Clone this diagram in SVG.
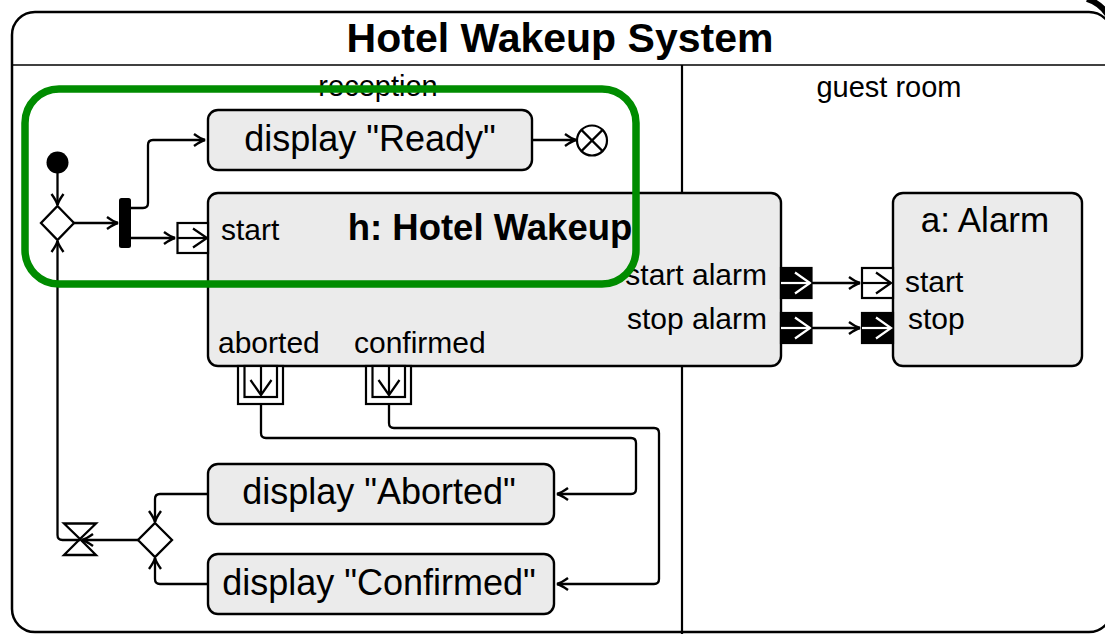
<svg xmlns="http://www.w3.org/2000/svg" width="1105" height="634" viewBox="0 0 1105 634">
  <style>
    text { font-family: "Liberation Sans", Arial, sans-serif; fill: #000; }
    .title { font-size: 41px; font-weight: bold; text-anchor: middle; }
    .lane { font-size: 29px; text-anchor: middle; }
    .act { fill: #ebebeb; stroke: #000; stroke-width: 2.4; }
    .actlbl { font-size: 36px; text-anchor: middle; }
    .pinlbl { font-size: 30px; }
    .edge { fill: none; stroke: #000; stroke-width: 2.3; marker-end: url(#arr); }
    .pin { fill: #fff; stroke: #000; stroke-width: 2.2; }
    .pinb { fill: #000; stroke: #000; stroke-width: 2.2; }
    .glyph { fill: none; stroke: #000; stroke-width: 2.2; }
    .glyphw { fill: none; stroke: #fff; stroke-width: 2.2; }
  </style>
  <defs>
    <marker id="arr" viewBox="-13 -8 15 16" refX="0" refY="0" markerWidth="15" markerHeight="16" markerUnits="userSpaceOnUse" orient="auto">
      <path d="M-11,-6 Q-4,-1 0,0 Q-4,1 -11,6" fill="none" stroke="#000" stroke-width="2.4"/>
    </marker>
  </defs>

  <rect width="1105" height="634" fill="#fff"/>

  <!-- frame with title compartment and swimlanes -->
  <g id="frame">
    <rect x="12" y="12" width="1100" height="620" rx="23" fill="none" stroke="#000" stroke-width="2.5"/>
    <line x1="12" y1="65" x2="1112" y2="65" stroke="#000" stroke-width="1.6"/>
    <line x1="682" y1="65" x2="682" y2="634" stroke="#000" stroke-width="2.2"/>
    <text class="title" x="560" y="52">Hotel Wakeup System</text>
    <text class="lane" x="378" y="96">reception</text>
    <text class="lane" x="889" y="97">guest room</text>
    <path d="M1087,-1 Q1100,3 1108,15" fill="none" stroke="#000" stroke-width="6"/>
  </g>

  <!-- control nodes -->
  <g id="initial">
    <circle cx="57.5" cy="162.5" r="11" fill="#000"/>
  </g>
  <g id="decision">
    <polygon points="57.5,206 74,223 57.5,240 41,223" fill="#fff" stroke="#000" stroke-width="2.3"/>
  </g>
  <g id="fork">
    <rect x="119" y="198" width="12" height="50" rx="2.5" fill="#000"/>
  </g>
  <g id="flow-final">
    <circle cx="592" cy="140.5" r="15" fill="#fff" stroke="#000" stroke-width="2.2"/>
    <line x1="581.4" y1="129.9" x2="602.6" y2="151.1" stroke="#000" stroke-width="2.2"/>
    <line x1="602.6" y1="129.9" x2="581.4" y2="151.1" stroke="#000" stroke-width="2.2"/>
  </g>
  <g id="merge">
    <polygon points="155,523 172,540 155,557 138,540" fill="#fff" stroke="#000" stroke-width="2.3"/>
  </g>
  <g id="timer">
    <polygon points="64,523.5 96,523.5 80,539 96,555 64,555 80,539" fill="#fff" stroke="#000" stroke-width="2.3" stroke-linejoin="miter"/>
  </g>

  <!-- actions -->
  <g id="display-ready">
    <rect class="act" x="208" y="110" width="324" height="60" rx="10"/>
    <text class="actlbl" x="370" y="151">display "Ready"</text>
  </g>

  <g id="hotel-wakeup">
    <rect class="act" x="208" y="193" width="573" height="173" rx="10"/>
    <text x="490" y="240" font-size="36.5" font-weight="bold" text-anchor="middle">h: Hotel Wakeup</text>
    <text class="pinlbl" x="221" y="240">start</text>
    <text class="pinlbl" x="767" y="285" text-anchor="end">start alarm</text>
    <text class="pinlbl" x="767" y="329" text-anchor="end">stop alarm</text>
    <text class="pinlbl" x="218" y="353">aborted</text>
    <text class="pinlbl" x="354" y="353">confirmed</text>
    <!-- input pin: start -->
    <rect class="pin" x="177.5" y="223" width="30.5" height="30"/>
    <line class="glyph" x1="177.5" y1="238" x2="207" y2="238"/>
    <polyline class="glyph" points="193,228.5 207,238 193,247.5"/>
    <!-- output pins: start alarm / stop alarm -->
    <rect class="pinb" x="781" y="268" width="30.5" height="30"/>
    <line class="glyphw" x1="781" y1="283" x2="810" y2="283"/>
    <polyline class="glyphw" points="795,272.5 810,283 795,293.5"/>
    <rect class="pinb" x="781" y="313" width="30.5" height="30"/>
    <line class="glyphw" x1="781" y1="328" x2="810" y2="328"/>
    <polyline class="glyphw" points="795,317.5 810,328 795,338.5"/>
    <!-- output pin sets: aborted / confirmed -->
    <rect class="pin" x="238" y="366" width="45" height="38"/>
    <rect class="pin" x="244.5" y="366" width="32.5" height="31"/>
    <line class="glyph" x1="261" y1="366" x2="261" y2="395"/>
    <polyline class="glyph" points="250.5,380 261,395 271.5,380"/>
    <rect class="pin" x="366" y="366" width="45" height="38"/>
    <rect class="pin" x="372.5" y="366" width="32.5" height="31"/>
    <line class="glyph" x1="389" y1="366" x2="389" y2="395"/>
    <polyline class="glyph" points="378.5,380 389,395 399.5,380"/>
  </g>

  <g id="alarm">
    <rect class="act" x="893" y="193" width="189" height="173" rx="10"/>
    <text x="985" y="232" font-size="35" text-anchor="middle">a: Alarm</text>
    <text class="pinlbl" x="905" y="292">start</text>
    <text class="pinlbl" x="908" y="329">stop</text>
    <rect class="pin" x="862" y="268" width="31" height="30"/>
    <line class="glyph" x1="862" y1="283" x2="891" y2="283"/>
    <polyline class="glyph" points="876,272.5 891,283 876,293.5"/>
    <rect class="pinb" x="862" y="313" width="31" height="30"/>
    <line class="glyphw" x1="862" y1="328" x2="891" y2="328"/>
    <polyline class="glyphw" points="876,317.5 891,328 876,338.5"/>
  </g>

  <g id="display-aborted">
    <rect class="act" x="208" y="464" width="346" height="60" rx="10"/>
    <text class="actlbl" x="379" y="504">display "Aborted"</text>
  </g>

  <g id="display-confirmed">
    <rect class="act" x="208" y="554" width="346" height="60" rx="10"/>
    <text class="actlbl" x="379" y="595">display "Confirmed"</text>
  </g>

  <!-- control and object flows -->
  <g id="connectors">
    <path class="edge" d="M57.5,173 L57.5,205"/>
    <path class="edge" d="M74,223 L118,223"/>
    <path class="edge" d="M131,208 L143,208 Q148,208 148,203 L148,145 Q148,140 153,140 L205,140"/>
    <path class="edge" d="M131,238 L175,238"/>
    <path class="edge" d="M532,140 L576,140"/>
    <path class="edge" d="M811.5,283 L860,283"/>
    <path class="edge" d="M811.5,328 L860,328"/>
    <path class="edge" d="M261,404 L261,433 Q261,438 266,438 L631,438 Q636,438 636,443 L636,489 Q636,494 631,494 L557,494"/>
    <path class="edge" d="M389,404 L389,423 Q389,428 394,428 L654,428 Q659,428 659,433 L659,579 Q659,584 654,584 L557,584"/>
    <path class="edge" d="M208,494 L160,494 Q155,494 155,499 L155,522"/>
    <path class="edge" d="M208,584 L160,584 Q155,584 155,579 L155,558"/>
    <path class="edge" d="M138,540 L82,540"/>
    <path class="edge" d="M80,540 L62.5,540 Q57.5,540 57.5,535 L57.5,241"/>
  </g>

  <!-- highlight outline -->
  <g id="highlight">
    <rect x="25" y="89" width="611" height="195" rx="34" fill="none" stroke="#008c00" stroke-width="7.5"/>
  </g>
</svg>
